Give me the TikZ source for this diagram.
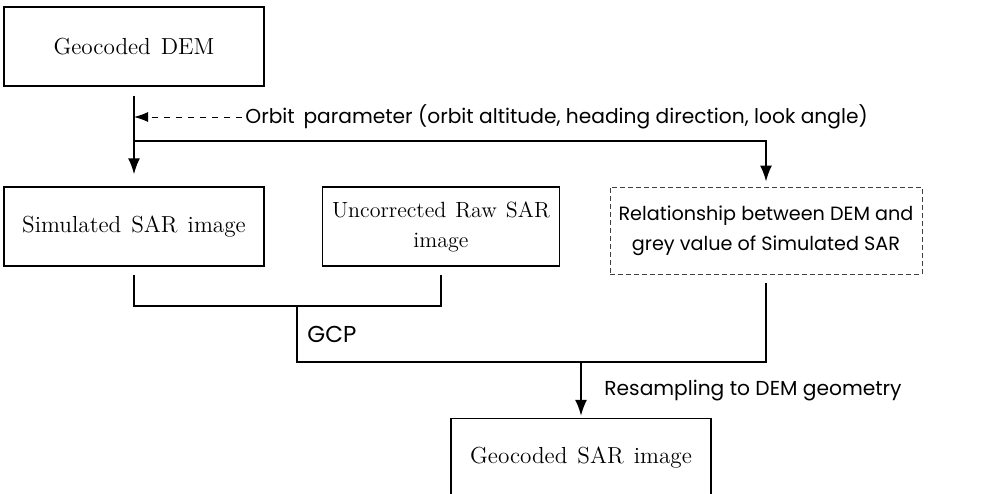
\documentclass[tikz,border=0pt]{standalone}
\usepackage{fontspec}
\newfontfamily\labelfont{Poppins}
\usetikzlibrary{arrows.meta}
\newcommand{\boxfont}{\fontsize{11.6}{15}\selectfont\spaceskip=5pt plus 1pt\relax}
\newcommand{\rawfont}{\fontsize{11}{15}\selectfont\spaceskip=4.5pt plus 1pt\relax}

\begin{document}
\begin{tikzpicture}[x=0.5pt, y=-0.5pt,
            box/.style={draw, line width=.6pt, minimum width=130pt, minimum height=39.5pt,
                align=center, inner sep=1pt, font=\boxfont},
            dashbox/.style={box, draw=black!75, line width=.5pt, dash pattern=on 2.5pt off 1.5pt,
                minimum width=156pt, minimum height=43.5pt,
                font=\labelfont\fontsize{9.6}{15}\selectfont},
            link/.style={line width=1pt},
            label/.style={anchor=west, inner sep=0pt, font=\labelfont\fontsize{10.1}{13}\selectfont},
            >={Latex[length=8pt, width=6pt]}]
    \useasboundingbox (0,0) rectangle (999,493);
    % boxes
    \node[box] (dem) at (134,46.5) {Geocoded DEM};
    \node[box] (sim) at (134,226.5) {Simulated SAR image};
    \node[box, minimum width=118.5pt, font=\rawfont] (raw) at (441,226.5) {Uncorrected Raw SAR\\image};
    \node[dashbox] (rel) at (766,230.5) {Relationship between DEM and\\grey value of Simulated SAR};
    \node[box] (geo) at (581,458) {Geocoded SAR image};
    % labels
    \node[label] (orbtxt) at (245,117) {Orbit\, parameter (orbit altitude, heading direction, look angle)};
    \node[label, font=\labelfont\fontsize{11.5}{13}\selectfont] (gcp) at (307,334) {GCP};
    \node[label] (resample) at (604,391) {Resampling to DEM geometry};
    % junctions
    \coordinate (orbin) at (134,117);
    \coordinate (branch) at (134,141);
    \coordinate (join) at (297,306);
    \coordinate (merge) at (297,362);
    \coordinate (drop) at (581,362);
    % connectors
    \draw[link, ->, shorten <=4.5pt, shorten >=6pt] (dem) -- (sim);
    \draw[line width=.5pt, dashed, -{Latex[length=7pt, width=5pt]}] (orbtxt.west) ++(-3,0) -- (orbin);
    \draw[line width=.8pt, ->, shorten >=2.5pt] (branch) -| (rel);
    \draw[link, shorten <=4pt, shorten >=4pt] (sim) |- (join) -| (raw);
    \draw[link, shorten >=4pt] (join) -- (merge) -| (rel);
    \draw[link, ->, shorten >=1pt] (drop) -- (geo);
\end{tikzpicture}
\end{document}
